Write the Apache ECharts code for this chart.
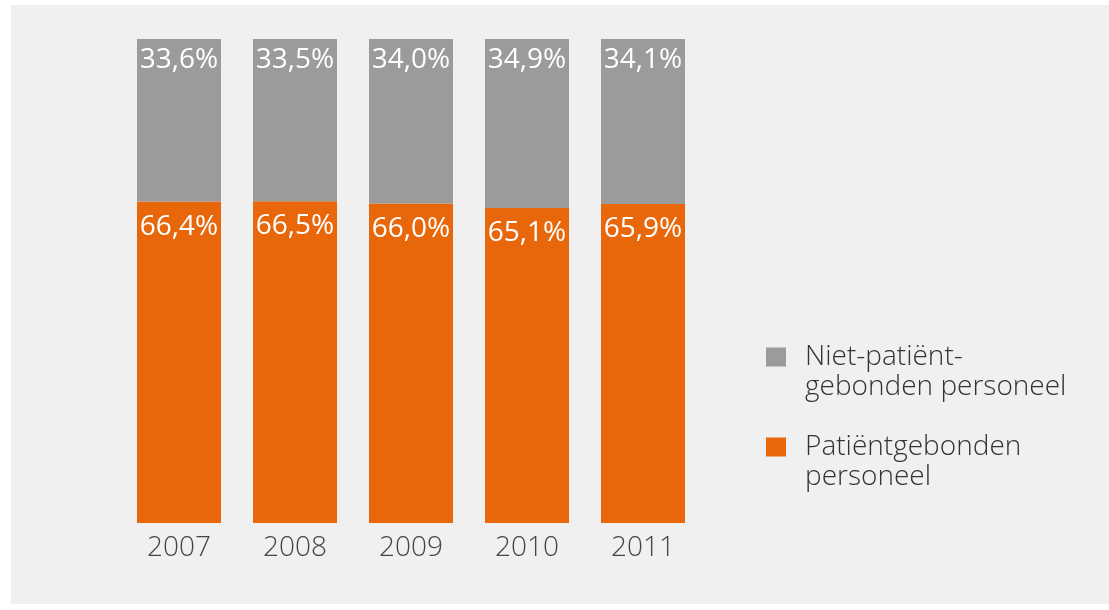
<!DOCTYPE html>
<html>
<head>
<meta charset="utf-8">
<script src="https://cdn.jsdelivr.net/npm/echarts@6/dist/echarts.min.js"></script>
<style>
html,body{margin:0;padding:0;background:#fff;}
#main{width:1109px;height:610px;}
</style>
</head>
<body>
<div id="main"></div>
<script>
const years = ['2007', '2008', '2009', '2010', '2011'];
const patientValues = [66.4, 66.5, 66.0, 65.1, 65.9];
const nonPatientValues = [33.6, 33.5, 34.0, 34.9, 34.1];
const seriesNames = ['Patiëntgebonden\npersoneel', 'Niet-patiënt-\ngebonden personeel'];
const fmt = v => v.toFixed(1).replace('.', ',') + '%';

const chart = echarts.init(document.getElementById('main'));
const FONT = 'Open Sans';
const legendFormatter = name => '{e| }\n' + name.split('\n').map(l => '{a|' + l + '}').join('\n');
const legendText = {
  fontFamily: FONT, fontSize: 28, fontWeight: 300, color: '#333333',
  rich: {
    e: { fontSize: 28, lineHeight: 30 },
    a: { fontFamily: FONT, fontSize: 28, fontWeight: 300, color: '#333333', lineHeight: 30, padding: [0, 0, 0, 14] }
  }
};
chart.setOption({
  backgroundColor: '#ffffff',
  animation: false,
  graphic: [{
    type: 'rect', z: -10, silent: true,
    shape: { x: 11, y: 5, width: 1098, height: 599 },
    style: { fill: '#f0f0f0' }
  }],
  grid: { left: 121, top: 39, width: 580, height: 484 },
  legend: [{
    orient: 'vertical', left: 766, top: 313, padding: 0,
    data: [seriesNames[1]], formatter: legendFormatter,
    itemWidth: 20, itemHeight: 19, itemGap: 0,
    icon: 'rect', textStyle: legendText
  }, {
    orient: 'vertical', left: 766, top: 403, padding: 0,
    data: [seriesNames[0]], formatter: legendFormatter,
    itemWidth: 20, itemHeight: 19, itemGap: 0,
    icon: 'rect', textStyle: legendText
  }],
  xAxis: {
    type: 'category', data: years,
    axisLine: { show: false }, axisTick: { show: false },
    axisLabel: { margin: 11, fontFamily: FONT, fontSize: 28, fontWeight: 300, color: '#454545' }
  },
  yAxis: {
    type: 'value', min: 0, max: 100, show: false,
    splitLine: { show: false }
  },
  series: [{
    name: seriesNames[0], type: 'bar', stack: 'total', data: patientValues,
    barWidth: 84, itemStyle: { color: '#e8670a' },
    label: { show: true, position: 'insideTop', distance: 11, formatter: p => fmt(p.value),
      color: '#fff', fontFamily: FONT, fontSize: 28, fontWeight: 500 }
  }, {
    name: seriesNames[1], type: 'bar', stack: 'total', data: nonPatientValues,
    barWidth: 84, itemStyle: { color: '#9a9b9a' },
    label: { show: true, position: 'insideTop', distance: 7, formatter: p => fmt(p.value),
      color: '#fff', fontFamily: FONT, fontSize: 28, fontWeight: 500 }
  }]
});
</script>
</body>
</html>
